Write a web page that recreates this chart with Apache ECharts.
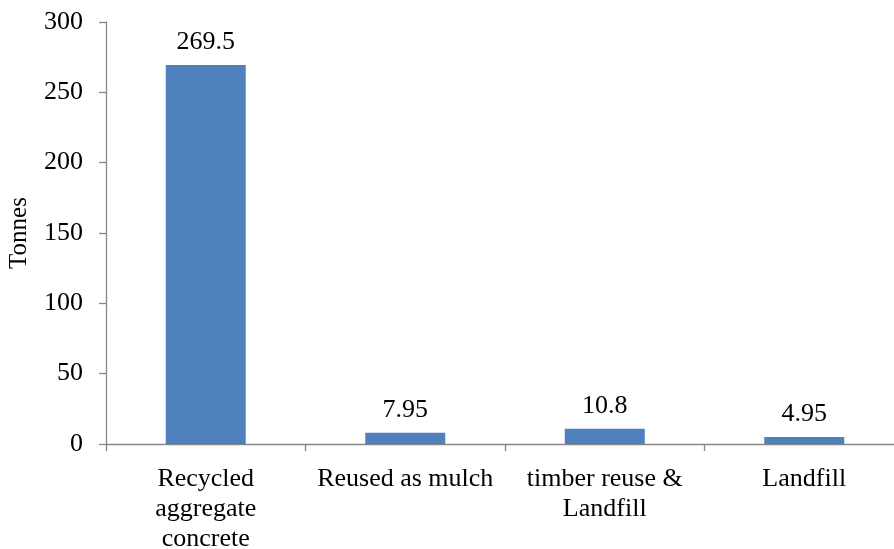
<!DOCTYPE html>
<html><head><meta charset="utf-8">
<script src="https://cdn.jsdelivr.net/npm/echarts@6/dist/echarts.min.js"></script>
<style>html,body{margin:0;padding:0;background:#fff;overflow:hidden}#c{width:894px;height:549px}</style>
</head><body><div id="c"></div>
<script>
const categories = ["Recycled\naggregate\nconcrete", "Reused as mulch", "timber reuse &\nLandfill", "Landfill"];
const values = [269.5, 7.95, 10.8, 4.95];
const labels = ["269.5", "7.95", "10.8", "4.95"];
const yTicks = [0, 50, 100, 150, 200, 250, 300];

const font = "'Liberation Serif', 'Times New Roman', serif";
const chart = echarts.init(document.getElementById('c'), null, {renderer: 'canvas'});
chart.setOption({
  animation: false,
  backgroundColor: '#fff',
  grid: {left: 106, top: 22, width: 798, height: 422, containLabel: false, outerBoundsMode: 'none'},
  xAxis: {
    type: 'category', data: categories,
    axisLine: {lineStyle: {color: '#868686', width: 1.3}},
    axisTick: {show: true, length: 7, lineStyle: {color: '#868686', width: 1.3}, alignWithLabel: false},
    axisLabel: {color: '#000', fontFamily: font, fontSize: 26, lineHeight: 30, margin: 20, interval: 0}
  },
  yAxis: {
    type: 'value', min: yTicks[0], max: yTicks[yTicks.length - 1], interval: 50,
    name: 'Tonnes', nameLocation: 'middle', nameGap: 74, nameRotate: 90,
    nameTextStyle: {color: '#000', fontFamily: font, fontSize: 25},
    axisLine: {show: true, lineStyle: {color: '#868686', width: 1.3}},
    axisTick: {show: true, length: 7, lineStyle: {color: '#868686', width: 1.3}},
    splitLine: {show: false},
    axisLabel: {color: '#000', fontFamily: font, fontSize: 26, margin: 23}
  },
  series: [{
    type: 'bar', data: values, barWidth: 80,
    itemStyle: {color: '#4F81BD'},
    label: {show: true, position: 'top', distance: 10, color: '#000', fontFamily: font, fontSize: 26,
      formatter: p => labels[p.dataIndex]}
  }]
});
</script></body></html>
